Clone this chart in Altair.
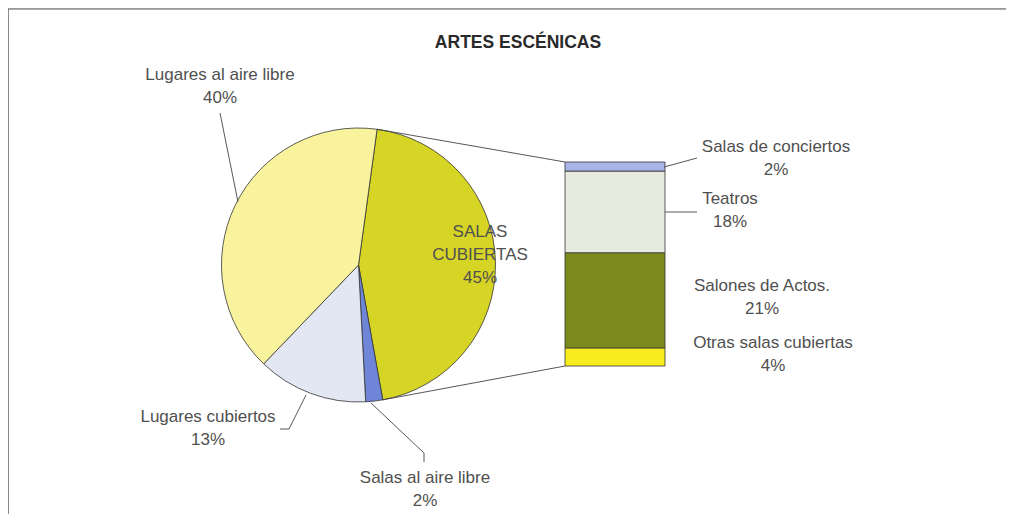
import math
import altair as alt
import pandas as pd

# ---------------- data ----------------
pie_categories = ["SALAS CUBIERTAS", "Salas al aire libre", "Lugares cubiertos", "Lugares al aire libre"]
pie_values = [45, 2, 13, 40]
pie_colors = ["#d6d424", "#6f86d8", "#e3e6f3", "#f9f39e"]

bar_categories = ["Otras salas cubiertas", "Salones de Actos.", "Teatros", "Salas de conciertos"]
bar_values = [4, 21, 18, 2]
bar_colors = ["#f7ed1e", "#7b8a1b", "#e6eadf", "#aab4e6"]

title_text = "ARTES ESCÉNICAS"

# ---------------- layout (page pixel coords, converted to chart coords) ----------------
OFF = 8
W, H = 998, 506
CX, CY, R = 358.5 - OFF, 265 - OFF, 137
A0 = math.radians(7.8)          # start angle of first slice (clockwise from 12 o'clock)
BAR_X0, BAR_X1 = 565 - OFF, 665 - OFF
BAR_TOP, BAR_BOT = 162 - OFF, 366 - OFF
TEXT_COLOR = "#505050"
LINE_COLOR = "#444444"
FONT = "Liberation Sans"
FS = 17

pie_df = pd.DataFrame({"cat": pie_categories, "value": pie_values, "idx": range(len(pie_values))})
bar_df = pd.DataFrame({"cat": bar_categories, "value": bar_values, "idx": range(len(bar_values))})

pie = alt.Chart(pie_df).mark_arc(radius=R, stroke="#333333", strokeWidth=0.8).encode(
    theta=alt.Theta("value:Q", stack=True, scale=alt.Scale(range=[A0, A0 + 2 * math.pi])),
    color=alt.Color("cat:N", scale=alt.Scale(domain=pie_categories, range=pie_colors), legend=None),
    order=alt.Order("idx:Q"),
    x=alt.value(CX),
    y=alt.value(CY),
)

bar = alt.Chart(bar_df).transform_stack(
    stack="value", as_=["y0", "y1"], groupby=[], sort=[alt.SortField("idx", order="ascending")]
).mark_rect(stroke="#333333", strokeWidth=0.8).encode(
    x=alt.value(BAR_X0),
    x2=alt.value(BAR_X1),
    y=alt.Y("y0:Q", axis=None,
            scale=alt.Scale(domain=[0, sum(bar_values)], range=[BAR_BOT, BAR_TOP])),
    y2="y1:Q",
    color=alt.Color("cat:N", scale=alt.Scale(domain=bar_categories, range=bar_colors), legend=None),
)

# connector lines from the exploded slice edges to the bar corners
a_end = A0 + 2 * math.pi * pie_values[0] / sum(pie_values)
def edge(a):
    return CX + R * math.sin(a), CY - R * math.cos(a)
p_top = edge(A0)
p_bot = edge(a_end)

def pts(seq):
    return [(x - OFF, y - OFF) for x, y in seq]

lines = {
    "conn_top": [p_top, (BAR_X0, BAR_TOP)],
    "conn_bot": [p_bot, (BAR_X0, BAR_BOT)],
    "l_aire": pts([(220, 113), (238, 202)]),
    "l_cub": pts([(280, 429), (289, 429), (306, 395)]),
    "l_salas_aire": pts([(371, 403), (424, 453), (424, 462)]),
    "l_conc": pts([(664, 167), (697, 158)]),
    "l_teatros": pts([(665, 212), (697, 212)]),
}
rows = []
for g, seq in lines.items():
    for i, (x, y) in enumerate(seq):
        rows.append({"g": g, "i": i, "x": x, "y": y})
lines_df = pd.DataFrame(rows)

leaders = alt.Chart(lines_df).mark_line(color=LINE_COLOR, strokeWidth=0.9).encode(
    x=alt.X("x:Q", scale=None, axis=None),
    y=alt.Y("y:Q", scale=None, axis=None),
    detail="g:N",
    order="i:Q",
)

# labels: name + percentage, each line its own row
pv = dict(zip(pie_categories, pie_values))
bv = dict(zip(bar_categories, bar_values))
label_pos = {
    "Lugares al aire libre": (220, 75, pv),
    "Lugares cubiertos": (208, 417, pv),
    "Salas al aire libre": (425, 478, pv),
    "Salas de conciertos": (776, 147, bv),
    "Teatros": (730, 199, bv),
    "Salones de Actos.": (762, 286, bv),
    "Otras salas cubiertas": (773, 343, bv),
}
lab_rows = []
for name, (x, y, src) in label_pos.items():
    lab_rows.append({"t": name, "x": x - OFF, "y": y - OFF})
    lab_rows.append({"t": f"{src[name]}%", "x": x - OFF, "y": y + 23 - OFF})
# inside label for main slice
for k, line in enumerate(["SALAS", "CUBIERTAS", f"{pv['SALAS CUBIERTAS']}%"]):
    lab_rows.append({"t": line, "x": 480 - OFF, "y": 232 + 23 * k - OFF})
lab_df = pd.DataFrame(lab_rows)

labels = alt.Chart(lab_df).mark_text(
    font=FONT, fontSize=FS, color=TEXT_COLOR, align="center", baseline="middle"
).encode(
    x=alt.X("x:Q", scale=None, axis=None),
    y=alt.Y("y:Q", scale=None, axis=None),
    text="t:N",
)

title = alt.Chart(pd.DataFrame({"t": [title_text]})).mark_text(
    font=FONT, fontSize=17.5, fontWeight="bold", color="#2a2a2a", align="center", baseline="middle"
).encode(x=alt.value(518 - OFF), y=alt.value(43 - OFF), text="t:N")

frame = alt.Chart(pd.DataFrame({"x": [0, 0, W], "y": [H, 1, 1], "i": [0, 1, 2]})).mark_line(
    color="#555555", strokeWidth=1.2
).encode(
    x=alt.X("x:Q", scale=None, axis=None),
    y=alt.Y("y:Q", scale=None, axis=None),
    order="i:Q",
)

chart = alt.layer(frame, pie, bar, leaders, labels, title).resolve_scale(
    x="independent", y="independent", color="independent", theta="independent"
).properties(
    width=W, height=H, padding=0, autosize=alt.AutoSizeParams(type="none")
).configure_view(stroke=None).configure(background="white")

chart.save("out.html", embed_options={"renderer": "svg", "actions": False})
